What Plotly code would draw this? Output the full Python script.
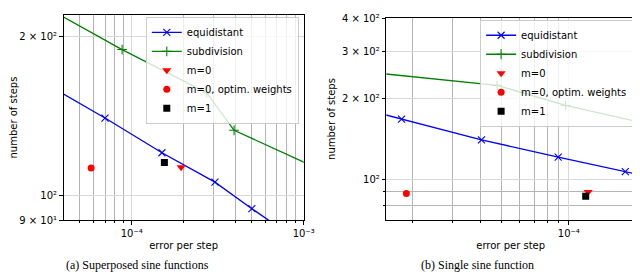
import numpy as np
import plotly.graph_objects as go

# ---------------- data ----------------
# (a) Superposed sine functions
a_equi_x = [3.5e-5, 7.0e-5, 1.5e-4, 3.05e-4, 5.0e-4, 1.0e-3]
a_equi_y = [160.0, 140.4, 120.7, 106.2, 94.6, 81.0]
a_sub_x = [3.0e-5, 8.8e-5, 2.73e-4, 3.94e-4, 1.3e-3]
a_sub_y = [229.7, 189.2, 156.8, 133.1, 111.5]
a_m0_x, a_m0_y = [1.94e-4], [113.3]
a_opt_x, a_opt_y = [5.81e-5], [113.0]
a_m1_x, a_m1_y = [1.55e-4], [115.7]

# (b) Single sine function
b_equi_x = [1.2e-5, 1.78e-5, 4.06e-5, 8.96e-5, 1.79e-4, 2.5e-4]
b_equi_y = [182.9, 167.8, 140.3, 120.9, 106.6, 100.3]
b_sub_x = [1.2e-5, 4.77e-5, 9.67e-5, 2.5e-4]
b_sub_y = [252.5, 224.5, 188.8, 157.8]
b_m0_x, b_m0_y = [1.22e-4], [89.6]
b_opt_x, b_opt_y = [1.87e-5], [88.4]
b_m1_x, b_m1_y = [1.19e-4], [86.2]

# tick labels
a_xticks = [1e-4, 1e-3]
a_xticklabels = ["10\u207b\u2074", "10\u207b\u00b3"]
a_yticks = [90, 100, 200]
a_yticklabels = ["9 \u00d7 10\u00b9", "10\u00b2", "2 \u00d7 10\u00b2"]
b_xticks = [1e-4]
b_xticklabels = ["10\u207b\u2074"]
b_yticks = [100, 200, 300, 400]
b_yticklabels = ["10\u00b2", "2 \u00d7 10\u00b2", "3 \u00d7 10\u00b2", "4 \u00d7 10\u00b2"]

names = ["equidistant", "subdivision", "m=0", "m=0, optim. weights", "m=1"]
captions = ["(a) Superposed sine functions", "(b) Single sine function"]

FONT = "DejaVu Sans"
BLUE, GREEN, RED = "#0000ff", "#008000", "#ff0000"

fig = go.Figure()


def add_panel(xa, ya, legend, ex, ey, sx, sy, m0, opt, m1):
    common = dict(xaxis=xa, yaxis=ya, legend=legend)
    fig.add_trace(go.Scatter(x=ex, y=ey, mode="lines+markers", name=names[0],
                             line=dict(color=BLUE, width=1.3),
                             marker=dict(symbol="x-thin", size=7,
                                         line=dict(color=BLUE, width=1.1)),
                             **common))
    fig.add_trace(go.Scatter(x=sx, y=sy, mode="lines+markers", name=names[1],
                             line=dict(color=GREEN, width=1.3),
                             marker=dict(symbol="cross-thin", size=7,
                                         line=dict(color=GREEN, width=1.1)),
                             **common))
    fig.add_trace(go.Scatter(x=m0[0], y=m0[1], mode="markers", name=names[2],
                             marker=dict(symbol="triangle-down", size=8, color=RED),
                             **common))
    fig.add_trace(go.Scatter(x=opt[0], y=opt[1], mode="markers", name=names[3],
                             marker=dict(symbol="circle", size=7, color=RED),
                             **common))
    fig.add_trace(go.Scatter(x=m1[0], y=m1[1], mode="markers", name=names[4],
                             marker=dict(symbol="square", size=7, color="black"),
                             **common))


add_panel("x", "y", "legend", a_equi_x, a_equi_y, a_sub_x, a_sub_y,
          (a_m0_x, a_m0_y), (a_opt_x, a_opt_y), (a_m1_x, a_m1_y))
add_panel("x2", "y2", "legend2", b_equi_x, b_equi_y, b_sub_x, b_sub_y,
          (b_m0_x, b_m0_y), (b_opt_x, b_opt_y), (b_m1_x, b_m1_y))


def minor_vals(lo, hi):
    vals = []
    for e in range(-7, 4):
        for m in range(2, 10):
            v = m * 10.0 ** e
            if lo <= v <= hi:
                vals.append(v)
    return vals


def axis(domain, rng, tickvals, ticktext, minor, title, anchor):
    return dict(
        type="log", domain=domain, range=rng, anchor=anchor,
        tickmode="array", tickvals=tickvals, ticktext=ticktext,
        ticks="outside", ticklen=3.5, tickwidth=0.8, tickcolor="black",
        showline=True, linecolor="black", linewidth=1, mirror=True,
        showgrid=True, gridcolor="#d9d9d9", gridwidth=1,
        zeroline=False,
        tickfont=dict(family=FONT, size=10, color="black"),
        title=dict(text=title, font=dict(family=FONT, size=10, color="black"), standoff=4),
        minor=dict(tickmode="array", tickvals=minor, ticks="outside", ticklen=2,
                   tickcolor="black", showgrid=True, gridcolor="#b4b4b4", gridwidth=1),
    )


a_xr = [np.log10(4.02e-5), -3.0 + 1e-4]
a_yr = [np.log10(90) - 1e-4, np.log10(220)]
b_xr = [np.log10(1.52e-5), np.log10(1.98e-4)]
b_yr = [np.log10(70.2), np.log10(400) + 2e-3]

yd_a = [1 - 215 / 275, 1 - 2 / 275]
yd_b = [1 - 215 / 275, 1 - 5 / 275]

fig.update_layout(
    width=640, height=275,
    margin=dict(l=0, r=0, t=0, b=0),
    paper_bgcolor="white", plot_bgcolor="white",
    font=dict(family=FONT, size=10, color="black"),
    xaxis=axis([50 / 640, 297 / 640], a_xr, a_xticks, a_xticklabels,
               minor_vals(4e-5, 1e-3), "error per step", "y"),
    yaxis=axis(yd_a, a_yr, a_yticks, a_yticklabels,
               [v for v in minor_vals(90, 220) if v not in a_yticks], "number of steps", "x"),
    xaxis2=axis([382 / 640, 638 / 640], b_xr, b_xticks, b_xticklabels,
                minor_vals(1.5e-5, 2e-4), "error per step", "y2"),
    yaxis2=axis(yd_b, b_yr, b_yticks, b_yticklabels,
                [v for v in minor_vals(70, 400) if v not in b_yticks], "number of steps", "x2"),
    legend=dict(x=292 / 640, y=1 - 4 / 275, xanchor="right", yanchor="top",
                bgcolor="rgba(255,255,255,0.8)", bordercolor="#cccccc", borderwidth=1,
                font=dict(family=FONT, size=10, color="black"), tracegroupgap=0,
                itemwidth=30),
    legend2=dict(x=636 / 640, y=1 - 7 / 275, xanchor="right", yanchor="top",
                 bgcolor="rgba(255,255,255,0.8)", bordercolor="#cccccc", borderwidth=1,
                 font=dict(family=FONT, size=10, color="black"), tracegroupgap=0,
                 itemwidth=30),
    showlegend=True,
)

for txt, xc in zip(captions, [126 / 640, 476 / 640]):
    fig.add_annotation(text=txt, xref="paper", yref="paper", x=xc, y=1 - 262 / 275,
                       xanchor="center", yanchor="middle", showarrow=False,
                       font=dict(family="Liberation Serif", size=12, color="black"))

fig.write_html("out.html")
